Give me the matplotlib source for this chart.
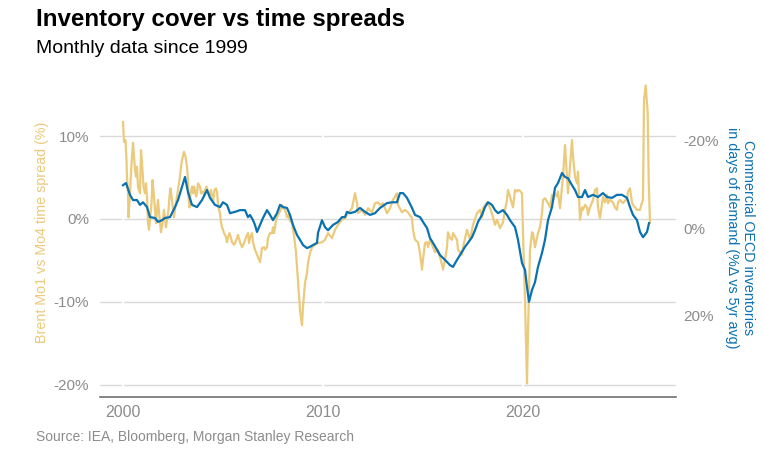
import numpy as np
import matplotlib
matplotlib.use("Agg")
import matplotlib.pyplot as plt

plt.rcParams['font.family'] = ['Liberation Sans', 'DejaVu Sans']

# Brent Mo1 vs Mo4 time spread (%), left axis
spread_years = [
    2000.00, 2000.05, 2000.125, 2000.175, 2000.20, 2000.25, 2000.275, 2000.35, 2000.425, 2000.50,
    2000.60, 2000.65, 2000.70, 2000.75, 2000.85, 2000.90, 2000.975, 2001.025, 2001.10, 2001.15,
    2001.20, 2001.25, 2001.30, 2001.35, 2001.425, 2001.475, 2001.55, 2001.60, 2001.65, 2001.70,
    2001.75, 2001.825, 2001.90, 2001.975, 2002.05, 2002.10, 2002.15, 2002.20, 2002.275, 2002.325,
    2002.375, 2002.45, 2002.50, 2002.55, 2002.60, 2002.65, 2002.725, 2002.80, 2002.85, 2002.90,
    2002.95, 2003.05, 2003.125, 2003.20, 2003.25, 2003.275, 2003.325, 2003.375, 2003.45, 2003.50,
    2003.55, 2003.60, 2003.65, 2003.70, 2003.75, 2003.85, 2003.90, 2004.00, 2004.05, 2004.10,
    2004.175, 2004.25, 2004.35, 2004.40, 2004.45, 2004.50, 2004.575, 2004.65, 2004.70, 2004.75,
    2004.80, 2004.85, 2004.90, 2004.95, 2005.00, 2005.05, 2005.10, 2005.15, 2005.20, 2005.25,
    2005.325, 2005.40, 2005.45, 2005.55, 2005.60, 2005.70, 2005.75, 2005.85, 2005.95, 2006.05,
    2006.15, 2006.25, 2006.30, 2006.35, 2006.45, 2006.50, 2006.60, 2006.70, 2006.80, 2006.85,
    2006.95, 2007.05, 2007.10, 2007.20, 2007.25, 2007.35, 2007.45, 2007.50, 2007.55, 2007.60,
    2007.65, 2007.75, 2007.825, 2007.90, 2007.95, 2008.00, 2008.10, 2008.15, 2008.20, 2008.25,
    2008.35, 2008.45, 2008.55, 2008.65, 2008.75, 2008.85, 2008.95, 2009.00, 2009.10, 2009.20,
    2009.25, 2009.35, 2009.45, 2009.60, 2009.75, 2009.95, 2010.10, 2010.25, 2010.45, 2010.60,
    2010.75, 2010.95, 2011.10, 2011.25, 2011.45, 2011.60, 2011.70, 2011.75, 2011.95, 2012.10,
    2012.25, 2012.45, 2012.60, 2012.75, 2012.85, 2013.00, 2013.20, 2013.35, 2013.50, 2013.70,
    2013.75, 2013.95, 2014.10, 2014.25, 2014.45, 2014.50, 2014.60, 2014.75, 2014.85, 2014.95,
    2015.00, 2015.10, 2015.20, 2015.25, 2015.35, 2015.50, 2015.60, 2015.75, 2015.85, 2015.95,
    2016.00, 2016.10, 2016.20, 2016.25, 2016.35, 2016.45, 2016.50, 2016.70, 2016.75, 2016.95,
    2017.00, 2017.20, 2017.35, 2017.50, 2017.70, 2017.85, 2017.95, 2018.00, 2018.20, 2018.35,
    2018.50, 2018.60, 2018.70, 2018.85, 2019.00, 2019.10, 2019.20, 2019.25, 2019.35, 2019.50,
    2019.60, 2019.70, 2019.75, 2019.85, 2019.95, 2020.00, 2020.10, 2020.20, 2020.25, 2020.35,
    2020.45, 2020.50, 2020.60, 2020.70, 2020.75, 2020.85, 2020.95, 2021.00, 2021.10, 2021.25,
    2021.35, 2021.45, 2021.50, 2021.60, 2021.70, 2021.75, 2021.85, 2021.95, 2022.00, 2022.10,
    2022.20, 2022.25, 2022.35, 2022.45, 2022.50, 2022.60, 2022.70, 2022.75, 2022.85, 2022.95,
    2023.00, 2023.10, 2023.20, 2023.25, 2023.35, 2023.50, 2023.60, 2023.70, 2023.75, 2023.85,
    2023.95, 2024.00, 2024.10, 2024.20, 2024.25, 2024.35, 2024.50, 2024.60, 2024.70, 2024.75,
    2024.85, 2025.00, 2025.20, 2025.25, 2025.35, 2025.45, 2025.50, 2025.70, 2025.85, 2025.95,
    2026.00, 2026.05, 2026.135, 2026.235, 2026.285, 2026.35,
]
spread_values = [
    11.7, 9.3, 9.5, 7.1, 5.1, 3.1, 0.2, 3.1, 6.7, 9.2,
    5.9, 5.1, 6.3, 3.9, 3.1, 8.3, 5.9, 3.9, 3.1, 4.3,
    2.7, -0.5, -1.3, -0.1, 1.9, 4.7, 2.7, 1.1, -0.5, 1.1,
    2.3, 0.2, -1.6, -0.5, 1.1, 0.1, -1.0, -0.1, 1.1, 2.7,
    3.7, 2.3, 1.1, 0.2, 1.1, 2.0, 3.1, 4.3, 5.1, 6.3,
    7.1, 8.1, 7.5, 6.3, 4.7, 2.7, 1.4, 3.1, 3.9, 3.1,
    3.9, 3.5, 2.7, 3.1, 4.3, 3.9, 3.1, 3.3, 2.9, 3.5,
    3.9, 3.3, 2.9, 3.5, 2.7, 2.0, 3.5, 3.7, 3.3, 1.9,
    1.1, 0.7, -0.4, -1.0, -1.3, -1.7, -1.9, -2.2, -2.8, -2.2,
    -1.7, -2.3, -2.8, -3.1, -2.9, -2.3, -1.9, -2.8, -3.4, -2.9,
    -2.2, -1.7, -2.9, -2.3, -1.7, -2.8, -3.7, -4.3, -4.9, -5.2,
    -3.5, -3.4, -3.7, -3.4, -2.3, -1.7, -1.7, -1.0, -1.7, -1.0,
    -0.1, 0.5, 0.8, 1.3, 1.7, 1.3, 1.1, 0.7, 0.2, 0.5,
    -0.2, -0.5, -2.0, -4.0, -7.5, -11.0, -12.8, -10.6, -7.7, -6.5,
    -5.3, -4.1, -3.4, -3.1, -2.9, -2.8, -2.5, -1.7, -2.3, -1.3,
    -0.7, -0.1, 0.1, 0.7, 1.3, 3.1, 1.9, 0.7, 1.1, 0.5,
    1.3, 0.8, 1.9, 2.0, 1.7, 1.9, 0.7, 1.3, 2.3, 3.1,
    1.7, 0.8, 1.1, 0.8, 0.1, -1.3, -2.5, -2.8, -4.1, -6.1,
    -4.9, -2.9, -2.8, -3.4, -2.5, -3.4, -4.0, -3.7, -4.6, -5.5,
    -6.1, -4.9, -3.4, -1.6, -2.3, -2.5, -1.7, -2.5, -3.7, -4.3,
    -3.4, -1.3, -2.5, -0.7, 0.7, 1.1, 0.2, 1.3, 2.0, 1.4,
    0.2, -0.7, -0.1, -1.1, -0.4, 1.1, 2.3, 3.5, 2.7, 1.4,
    3.5, 3.3, 3.5, 3.4, 3.1, -1.7, -9.8, -19.8, -13.7, -3.7,
    -1.6, -1.7, -3.4, -2.3, -1.7, -1.0, 0.7, 2.3, 2.5, 1.9,
    1.4, 2.9, 2.3, 3.1, 2.7, 3.3, 1.3, 3.9, 5.1, 8.9,
    5.1, 3.1, 6.3, 9.5, 7.5, 5.1, 4.3, 5.7, -0.1, 1.4,
    1.1, 1.7, 1.4, 0.5, 1.4, 2.3, 3.5, 3.7, 1.4, 0.1,
    1.9, 2.7, 2.0, 2.9, 1.9, 2.3, 2.0, 1.4, 1.1, 2.0,
    2.3, 1.9, 2.5, 3.3, 3.7, 2.0, 1.7, 1.1, 1.1, 2.0,
    2.3, 14.3, 16.1, 12.8, 4.7, -0.5,
]

# Commercial OECD inventories in days of demand (% vs 5yr avg), right axis (inverted)
stocks_years = [
    2000.00, 2000.15, 2000.35, 2000.50, 2000.70, 2000.85, 2001.00, 2001.20, 2001.35, 2001.60,
    2001.75, 2001.95, 2002.10, 2002.35, 2002.60, 2002.75, 2002.95, 2003.10, 2003.25, 2003.45,
    2003.70, 2003.95, 2004.20, 2004.35, 2004.60, 2004.85, 2005.00, 2005.20, 2005.35, 2005.60,
    2005.85, 2006.10, 2006.25, 2006.35, 2006.50, 2006.60, 2006.70, 2006.85, 2007.00, 2007.20,
    2007.35, 2007.50, 2007.70, 2007.85, 2008.00, 2008.20, 2008.35, 2008.50, 2008.70, 2008.85,
    2009.00, 2009.20, 2009.35, 2009.50, 2009.70, 2009.75, 2009.95, 2010.10, 2010.25, 2010.50,
    2010.75, 2010.95, 2011.10, 2011.20, 2011.35, 2011.60, 2011.85, 2012.10, 2012.35, 2012.60,
    2012.75, 2012.85, 2013.20, 2013.45, 2013.70, 2013.85, 2014.00, 2014.20, 2014.45, 2014.60,
    2014.85, 2015.00, 2015.20, 2015.35, 2015.50, 2015.70, 2015.85, 2016.10, 2016.35, 2016.50,
    2016.70, 2016.85, 2017.10, 2017.25, 2017.45, 2017.60, 2017.75, 2017.95, 2018.10, 2018.25,
    2018.45, 2018.60, 2018.75, 2019.00, 2019.20, 2019.35, 2019.60, 2019.75, 2019.95, 2020.10,
    2020.20, 2020.30, 2020.45, 2020.60, 2020.75, 2020.95, 2021.10, 2021.25, 2021.45, 2021.60,
    2021.75, 2021.95, 2022.10, 2022.25, 2022.45, 2022.60, 2022.75, 2022.95, 2023.10, 2023.25,
    2023.50, 2023.75, 2024.00, 2024.20, 2024.45, 2024.70, 2024.95, 2025.20, 2025.35, 2025.50,
    2025.70, 2025.85, 2026.00, 2026.20, 2026.30,
]
stocks_values = [
    -9.8, -10.3, -7.6, -6.4, -6.4, -5.3, -5.9, -4.8, -2.5, -2.3,
    -1.4, -1.8, -2.3, -2.5, -4.8, -6.4, -9.4, -11.7, -8.2, -5.3,
    -4.8, -6.4, -8.7, -6.9, -5.3, -4.8, -5.9, -5.3, -3.4, -3.7,
    -4.1, -4.1, -2.5, -3.0, -1.8, -0.7, 0.9, -0.7, -2.3, -4.1,
    -3.0, -1.8, -3.4, -5.3, -4.8, -4.6, -3.0, -0.7, 1.6, 2.7,
    3.9, 4.6, 4.3, 3.9, 3.4, 1.1, -1.8, -0.2, 0.5, -0.7,
    -1.4, -2.5, -2.5, -3.7, -3.4, -3.7, -4.6, -3.7, -3.0, -3.4,
    -4.1, -4.6, -5.7, -5.9, -5.9, -8.0, -8.0, -6.9, -4.6, -3.0,
    -2.5, -1.4, 0.0, 2.3, 3.4, 5.0, 6.2, 7.3, 8.5, 8.9,
    7.3, 6.2, 4.3, 3.4, 2.1, 0.5, -1.4, -3.0, -4.8, -5.9,
    -5.3, -4.1, -3.4, -4.1, -3.0, -1.8, -0.2, 2.7, 8.0, 9.6,
    13.5, 16.9, 14.2, 12.4, 8.9, 5.7, 2.7, -1.8, -4.8, -9.2,
    -10.3, -12.6, -11.7, -11.4, -9.8, -8.7, -7.1, -7.1, -8.7, -7.1,
    -7.6, -7.1, -8.0, -7.1, -6.9, -7.6, -7.6, -6.9, -4.8, -3.0,
    -1.8, 0.9, 2.1, 0.9, -1.1,
]

left_ticks = [-20, -10, 0, 10]
right_ticks = [-20, 0, 20]
year_ticks = [2000, 2010, 2020]

yellow = '#EBCA7C'
blue = '#0B72B1'
grey = '#8C8C8C'

fig = plt.figure(figsize=(7.64, 4.49), dpi=100)
ax = fig.add_axes([100 / 764, 52 / 449, 576 / 764, 317 / 449])
ax2 = ax.twinx()

ax.plot(spread_years, spread_values, color=yellow, lw=1.6, zorder=3)
ax2.plot(stocks_years, stocks_values, color=blue, lw=1.6)

ax.set_xlim(1998.85, 2027.65)
ax.set_ylim(-21.45, 16.75)
ax2.set_ylim(38.7, -33.9)

ax.set_yticks(left_ticks)
ax.set_yticklabels([f'{t}%' for t in left_ticks])
ax2.set_yticks(right_ticks)
ax2.set_yticklabels([f'{t}%' for t in right_ticks])
ax.set_xticks(year_ticks)
ax.set_xticklabels([str(t) for t in year_ticks])

ax.grid(axis='y', color='#D9D9D9', lw=1.0)
ax.set_axisbelow(True)
for t in year_ticks:
    ax.axvline(t, color='white', lw=1.5, zorder=0.7)

for a in (ax, ax2):
    for s in ('top', 'left', 'right', 'bottom'):
        a.spines[s].set_visible(False)
ax.spines['bottom'].set_visible(True)
ax.spines['bottom'].set_color('#707070')
ax.spines['bottom'].set_linewidth(1.2)

ax.tick_params(axis='y', length=0, pad=8, labelsize=11, labelcolor=grey)
ax.tick_params(axis='x', length=0, pad=6, labelsize=11.5, labelcolor=grey)
ax2.tick_params(axis='y', length=0, pad=5, labelsize=11, labelcolor=grey)

fig.text(36 / 764, 1 - 26 / 449, 'Inventory cover vs time spreads', fontsize=17.4,
         fontweight='bold', color='black', va='baseline')
fig.text(36 / 764, 1 - 53 / 449, 'Monthly data since 1999', fontsize=14,
         color='black', va='baseline')
fig.text(36 / 764, 1 - 441 / 449, 'Source: IEA, Bloomberg, Morgan Stanley Research',
         fontsize=10, color=grey, va='baseline')

fig.text(42 / 764, 1 - 232 / 449, 'Brent Mo1 vs Mo4 time spread (%)', rotation=90,
         fontsize=10.3, color=yellow, ha='center', va='center')
fig.text(740 / 764, 1 - 238 / 449,
         'Commercial OECD inventories\nin days of demand (%Δ vs 5yr avg)',
         rotation=270, fontsize=10.3, color=blue, ha='center', va='center',
         multialignment='center', linespacing=1.1)

fig.savefig('out.png', dpi=100)
